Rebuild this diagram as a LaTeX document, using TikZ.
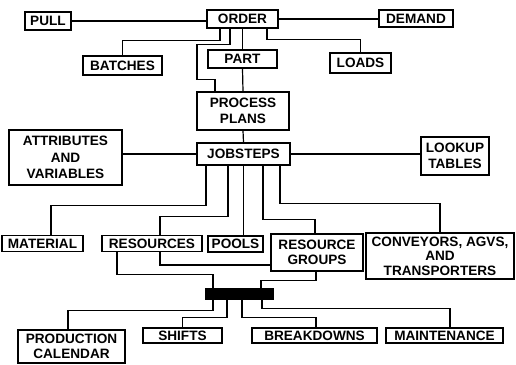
\documentclass[tikz,border=0pt]{standalone}
\usepackage{fontspec}
\setmainfont{Liberation Sans}
\begin{document}
\begin{tikzpicture}[x=1pt,y=-1pt,
  box/.style={draw, line width=1.5pt, inner sep=0pt, align=center, font=\bfseries\fontsize{13.6}{15.5}\selectfont},
  con/.style={line width=1.2pt},
  bar/.style={draw, fill=black, inner sep=0pt, line width=0.5pt}]
\useasboundingbox (0,0) rectangle (516,364);
% nodes
\node[box, minimum width=46, minimum height=18] (pull) at (48,21) {PULL};
\node[box, minimum width=71, minimum height=18] (order) at (242.5,19) {ORDER};
\node[box, minimum width=74, minimum height=17] (demand) at (416,18.5) {DEMAND};
\node[box, minimum width=79, minimum height=19] (batches) at (122.5,65.5) {BATCHES};
\node[box, minimum width=69, minimum height=18] (part) at (242.5,59) {PART};
\node[box, minimum width=61, minimum height=20] (loads) at (360.5,63) {LOADS};
\node[box, minimum width=92, minimum height=38] (pp) at (243,111) {PROCESS\\PLANS};
\node[box, minimum width=113, minimum height=55, font=\bfseries\fontsize{13.6}{16.5}\selectfont] (attr) at (65.5,157.5) {ATTRIBUTES\\AND\\VARIABLES};
\node[box, minimum width=93, minimum height=22] (jobsteps) at (243.5,154) {JOBSTEPS};
\node[box, minimum width=68, minimum height=38] (lookup) at (455,156) {LOOKUP\\TABLES};
\node[box, minimum width=81, minimum height=16] (material) at (42.5,243.5) {MATERIAL};
\node[box, minimum width=100, minimum height=16] (resources) at (152,243.5) {RESOURCES};
\node[box, minimum width=55, minimum height=16] (pools) at (235.5,244) {POOLS};
\node[box, minimum width=92, minimum height=37] (rg) at (317,252.5) {RESOURCE\\GROUPS};
\node[box, minimum width=148, minimum height=46, font=\bfseries\fontsize{13.6}{14.5}\selectfont] (conv) at (440,256) {CONVEYORS, AGVS,\\AND\\TRANSPORTERS};
\node[bar, minimum width=68, minimum height=11] (hub) at (239,293.5) {};
\node[box, minimum width=107, minimum height=33] (pc) at (71.5,346.5) {PRODUCTION\\CALENDAR};
\node[box, minimum width=79, minimum height=15] (shifts) at (182.5,335.5) {SHIFTS};
\node[box, minimum width=125, minimum height=15] (breakdowns) at (314.5,335.5) {BREAKDOWNS};
\node[box, minimum width=117, minimum height=15] (maint) at (444.5,335.5) {MAINTENANCE};
% connectors
\draw[con] (pull.east) -- (pull.east -| order.west);
\draw[con] (order.east) -- (order.east -| demand.west);
\draw[con] ([xshift=-22.5]order.south) -- ++(0,12) -| (batches.north);
\draw[con] ([xshift=-12.5]order.south) -- ++(0,16) -- ++(-33,0) -- ++(0,35) -- ++(18,0) -- ([xshift=-28]pp.north);
\draw[con] (order.south) -- (part.north);
\draw[con] (part.south) -- (pp.north);
\draw[con] ([xshift=24.5]order.south) -- ++(0,11) -| (loads.north);
\draw[con] (pp.south) -- (jobsteps.north);
\draw[con] (jobsteps.west) -- (jobsteps.west -| attr.east);
\draw[con] (jobsteps.east) -- (jobsteps.east -| lookup.west);
\draw[con] ([xshift=-37.5]jobsteps.south) -- ++(0,40) -| ([xshift=8.5]material.north);
\draw[con] ([xshift=-15.5]jobsteps.south) -- ++(0,51) -| ([xshift=8]resources.north);
\draw[con] (jobsteps.south) -- (jobsteps.south |- pools.north);
\draw[con] ([xshift=19.5]jobsteps.south) -- ++(0,54) -| ([xshift=-2]rg.north);
\draw[con] ([xshift=36.5]jobsteps.south) -- ++(0,38) -| (conv.north);
\draw[con] ([xshift=8]resources.south) |- ([yshift=-12.5]rg.west);
\draw[con] ([xshift=-35]resources.south) -- ++(0,22) -| ([xshift=-26]hub.north);
\draw[con] ([xshift=-1]rg.south) -- ++(0,9) -| ([xshift=22]hub.north);
\draw[con] ([xshift=-26]hub.south) -- ++(0,11) -| ([xshift=-3.5]pc.north);
\draw[con] ([xshift=-12]hub.south) -- ++(0,18) -| (shifts.north);
\draw[con] ([xshift=3]hub.south) -- ++(0,18) -| ([xshift=1.5]breakdowns.north);
\draw[con] ([xshift=23]hub.south) -- ++(0,9) -| ([xshift=5.5]maint.north);
\end{tikzpicture}
\end{document}
